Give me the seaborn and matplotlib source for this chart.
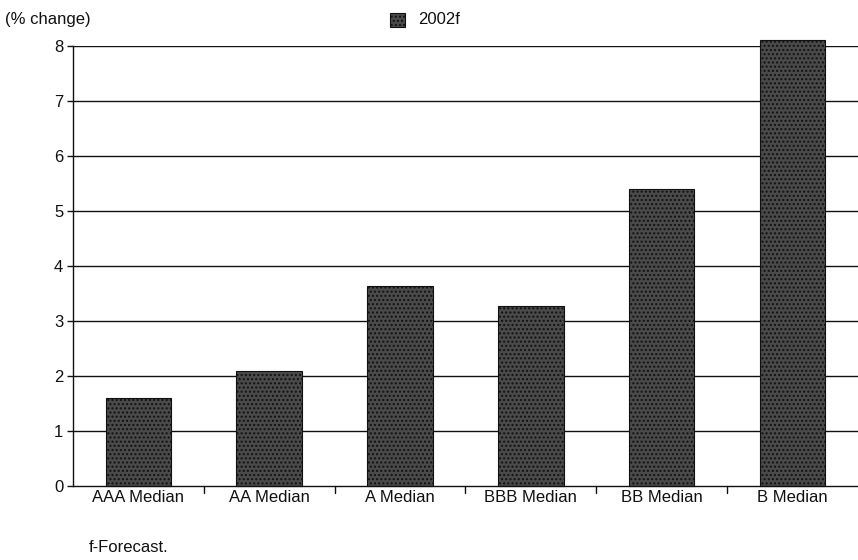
import matplotlib
matplotlib.use("Agg")
import matplotlib.pyplot as plt
import seaborn as sns
import pandas as pd
from matplotlib.patches import Rectangle

categories = ["AAA Median", "AA Median", "A Median", "BBB Median", "BB Median", "B Median"]
values_2002f = [1.6, 2.1, 3.63, 3.27, 5.4, 8.1]
series_name = "2002f"
y_ticks = [0, 1, 2, 3, 4, 5, 6, 7, 8]

df = pd.DataFrame({"category": categories, "value": values_2002f})

sns.set_theme(style="white")
plt.rcParams['font.family'] = ['Liberation Sans', 'DejaVu Sans']
plt.rcParams['hatch.color'] = '#9a9a9a'

fig = plt.figure(figsize=(8.58, 5.6), dpi=100)
ax = fig.add_axes([0.085, 0.132, 0.915, 0.786])

bar_color = "#4a4a4a"
sns.barplot(data=df, x="category", y="value", color=bar_color, width=0.5,
            saturation=1, ax=ax, edgecolor="#111111", linewidth=0.8)
for p in ax.patches:
    p.set_hatch("....")
    p.set_clip_on(False)

ax.set_ylim(0, 8)
ax.set_xlim(-0.5, len(categories) - 0.5)
ax.set_yticks(y_ticks)
ax.set_yticklabels([str(t) for t in y_ticks], fontsize=12, color="#111111")
for y in y_ticks[1:]:
    ax.axhline(y, color="#111111", linewidth=1.0, zorder=0)

ax.set_xticks(range(len(categories)))
ax.set_xticklabels(categories, fontsize=12, color="#111111")
ax.tick_params(axis="x", length=0, pad=3)
ax.tick_params(axis="y", length=4, width=1, color="#111111", direction="out", pad=3, left=True)
for b in [i + 0.5 for i in range(len(categories) - 1)]:
    ax.plot([b, b], [0, -0.12], color="#111111", linewidth=1, clip_on=False)

ax.set_xlabel("")
ax.set_ylabel("")
for s in ["top", "right"]:
    ax.spines[s].set_visible(False)
ax.spines["left"].set_color("#111111")
ax.spines["bottom"].set_color("#111111")
ax.spines["left"].set_linewidth(1)
ax.spines["bottom"].set_linewidth(1)

fig.text(0.006, 0.965, "(% change)", fontsize=12, color="#111111", va="center", ha="left")
fig.patches.append(Rectangle((0.455, 0.951), 0.017, 0.026, transform=fig.transFigure,
                             facecolor=bar_color, edgecolor="#111111", hatch="....", linewidth=0.8))
fig.text(0.487, 0.965, series_name, fontsize=12, color="#111111", va="center", ha="left")
fig.text(0.103, 0.022, "f-Forecast.", fontsize=12, color="#111111", va="center", ha="left")

fig.savefig("out.png", dpi=100)
